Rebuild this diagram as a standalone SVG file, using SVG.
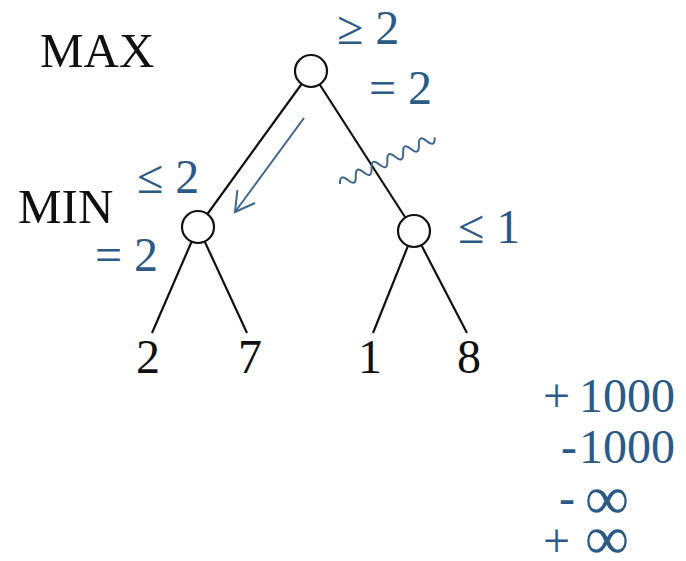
<svg xmlns="http://www.w3.org/2000/svg" width="686" height="561" viewBox="0 0 686 561">
<style>
.bk{font-family:'Liberation Serif','Times New Roman',serif;font-size:48px;fill:#111}
.lb{font-size:49px}
.bl{font-family:'Liberation Serif','Times New Roman',serif;font-size:48px;fill:#2c5a86}
.inf{font-size:62px}
.node{fill:#fff;stroke:#111;stroke-width:2.2}
.edge{stroke:#111;stroke-width:2.2;fill:none}
.ann{stroke:#3d6790;stroke-width:2;fill:none}
</style>
<rect width="686" height="561" fill="#fff"/>
<text class="bk lb" x="40" y="67">MAX</text>
<text class="bk lb" x="18" y="223">MIN</text>
<g id="connectors">
<line class="edge" x1="301.6" y1="84" x2="207.4" y2="214"/>
<line class="edge" x1="319.7" y1="84.5" x2="405.3" y2="217.5"/>
<line class="edge" x1="191.6" y1="241.7" x2="152" y2="333"/>
<line class="edge" x1="204.7" y1="241.5" x2="247" y2="333"/>
<line class="edge" x1="408" y1="245.8" x2="373" y2="333"/>
<line class="edge" x1="421.4" y1="245.2" x2="467" y2="333"/>
</g>
<g id="root"><circle class="node" cx="311" cy="71" r="16"/></g>
<g id="minL"><circle class="node" cx="198" cy="227" r="16"/></g>
<g id="minR"><circle class="node" cx="414" cy="231" r="16"/></g>
<g id="leaf2"><text class="bk" x="148" y="373" text-anchor="middle">2</text></g>
<g id="leaf7"><text class="bk" x="250" y="373" text-anchor="middle">7</text></g>
<g id="leaf1"><text class="bk" x="370" y="373" text-anchor="middle">1</text></g>
<g id="leaf8"><text class="bk" x="469" y="373" text-anchor="middle">8</text></g>
<g id="annotations">
<line class="ann" x1="304" y1="118" x2="235" y2="212"/>
<polyline class="ann" points="237.4,190 235,212 255,203"/>
<path class="ann" transform="translate(340,184) rotate(-26.3)" d="M0 0 q4.4 -10 8.8 0 t8.8 0 t8.8 0 t8.8 0 t8.8 0 t8.8 0 t8.8 0 t8.8 0 t8.8 0 t8.8 0 t8.8 0 t8.8 0"/>
</g>
<text class="bl" x="337" y="44">≥ 2</text>
<text class="bl" x="369" y="104">= 2</text>
<text class="bl" x="137" y="193">≤ 2</text>
<text class="bl" x="95" y="271">= 2</text>
<text class="bl" x="458" y="243">≤ 1</text>
<text class="bl" font-size="51" x="543" y="412">+<tspan x="579">1000</tspan></text>
<text class="bl" font-size="51" x="561" y="463">-<tspan x="579">1000</tspan></text>
<text class="bl" font-size="50" x="559" y="514">-<tspan class="inf" x="585" y="519">∞</tspan></text>
<text class="bl" font-size="50" x="543" y="557">+<tspan class="inf" x="585" y="559">∞</tspan></text>
</svg>
